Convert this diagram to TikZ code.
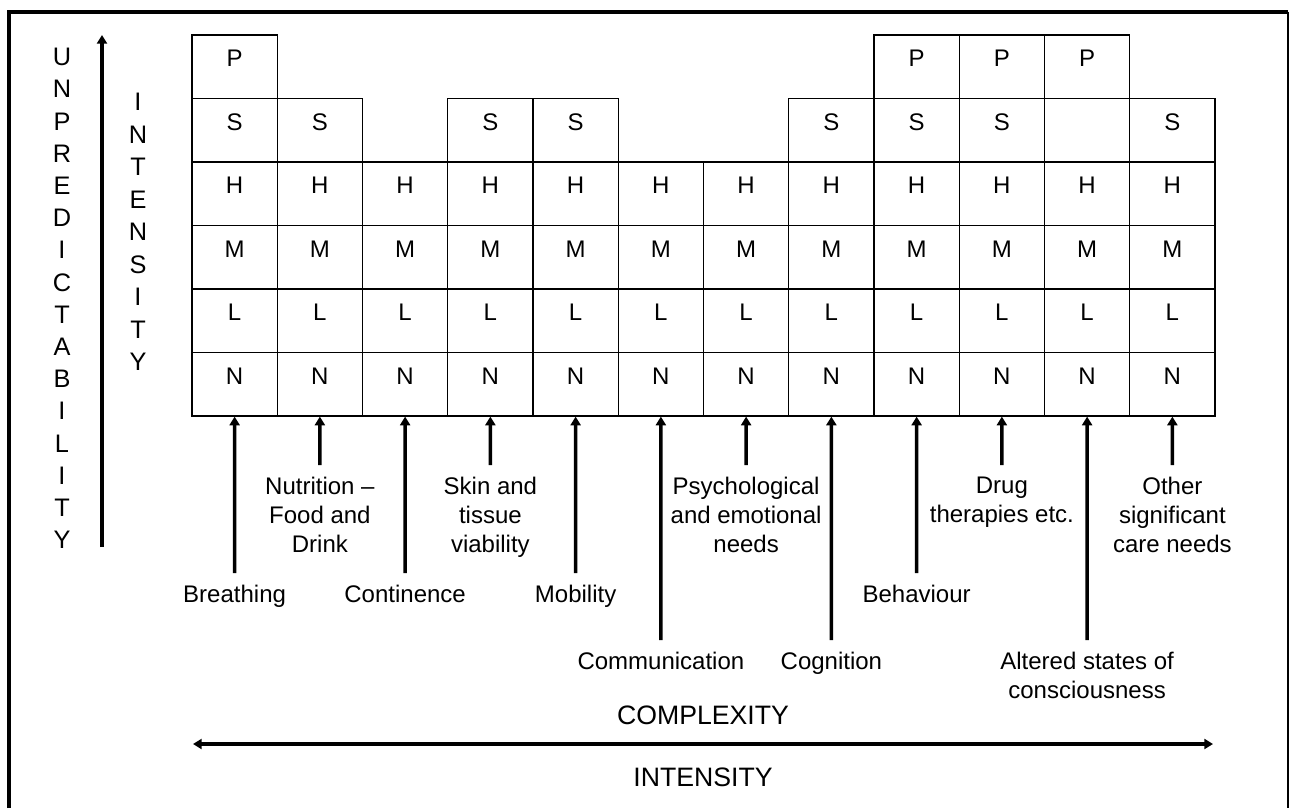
\documentclass[tikz,border=0pt]{standalone}
\usepackage{fontspec}
\setmainfont{Liberation Sans}
\usetikzlibrary{arrows.meta}
\newcommand\colw{85.25}
\newcommand\gridx{192}

\begin{document}
\begin{tikzpicture}[x=0.75pt, y=-0.75pt,
  cell/.style={draw, line width=0.9pt, minimum width=63.94pt, minimum height=47.63pt, inner sep=0pt, text height=12.5pt, text depth=12.5pt, font=\fontsize{18}{20}\selectfont},
  lbl/.style={anchor=north, inner sep=0pt, align=center, font=\fontsize{18}{21.5}\selectfont},
  axis/.style={inner sep=0pt, font=\fontsize{20}{22}\selectfont},
  headtip/.tip={Triangle[length=6.5pt,width=7.5pt]},
  arr/.style={line width=2.6pt, -{headtip}, shorten <=9pt}]
\useasboundingbox (0,0) rectangle (1290,808);

%frame
\draw [line width=2.4pt] (9,808) -- (9,12) -- (1288,12);
\draw [line width=1.2pt] (1288,12) -- (1288,808);

%grid of levels
\foreach \r/\y in {N/384.25, L/320.75, M/257.25, H/193.75}
  \foreach \c in {1,...,12}
    \node [cell] (\r\c) at ({\gridx+(\c-0.5)*\colw}, \y) {\r};
\foreach \c in {1,2,4,5,8,9,10,12}
  \node [cell] (S\c) at ({\gridx+(\c-0.5)*\colw}, 130.25) {S};
\node [cell] (S11) at ({\gridx+10.5*\colw}, 130.25) {};
\foreach \c in {1,9,10,11}
  \node [cell] (P\c) at ({\gridx+(\c-0.5)*\colw}, 66.75) {P};

%domains below
\node [lbl] (breathing) at (234.6,585) {Breathing};
\node [lbl] (nutrition) at (319.9,477) {Nutrition –\\Food and\\Drink};
\node [lbl] (continence) at (405.1,585) {Continence};
\node [lbl] (skin) at (490.4,477) {Skin and\\tissue\\viability};
\node [lbl] (mobility) at (575.6,585) {Mobility};
\node [lbl] (communication) at (660.9,652) {Communication};
\node [lbl] (psych) at (746.1,477) {Psychological\\and emotional\\needs};
\node [lbl] (cognition) at (831.4,652) {Cognition};
\node [lbl] (behaviour) at (916.6,585) {Behaviour};
\node [lbl] (drug) at (1001.9,477) {Drug\\therapies etc.};
\node [lbl] (altered) at (1087.1,652) {Altered states of\\consciousness};
\node [lbl] (other) at (1172.4,477) {Other\\significant\\care needs};

\foreach \l/\c in {breathing/1, nutrition/2, continence/3, skin/4, mobility/5, communication/6, psych/7, cognition/8, behaviour/9, drug/10, altered/11, other/12}
  \draw [arr] (\l.north) -- (N\c.south);

%vertical axis
\node [axis, align=center, font=\fontsize{19}{24.15}\selectfont] (unpred) at (62,298.5) {U\\N\\P\\R\\E\\D\\I\\C\\T\\A\\B\\I\\L\\I\\T\\Y};
\node [axis, align=center, font=\fontsize{19}{24.4}\selectfont] (intens) at (138,232) {I\\N\\T\\E\\N\\S\\I\\T\\Y};
\coordinate (ubot) at (102,547);
\coordinate (utop) at (102,35);
\draw [line width=2.6pt, -{headtip}] (ubot) -- (utop);

%horizontal axis
\node [axis] (complexity) at (703,715) {COMPLEXITY};
\coordinate (cleft) at (193,744);
\coordinate (cright) at (1213,744);
\draw [line width=2.6pt, {headtip}-{headtip}] (cleft) -- (cright);
\node [axis] (intensity) at (703,777) {INTENSITY};
\end{tikzpicture}
\end{document}
